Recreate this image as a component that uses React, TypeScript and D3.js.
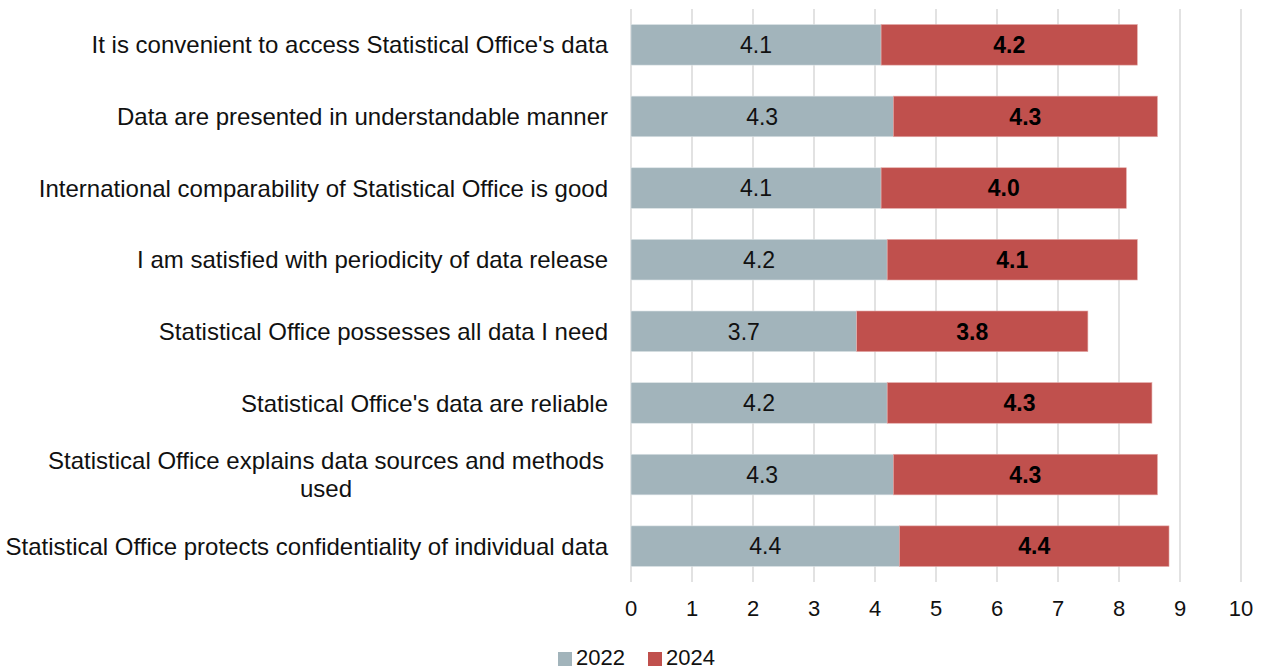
import React from 'react';
import * as d3 from 'd3';

// survey statements, top to bottom
const categories: string[][] = [
  ["It is convenient to access Statistical Office's data"],
  ['Data are presented in understandable manner'],
  ['International comparability of Statistical Office is good'],
  ['I am satisfied with periodicity of data release'],
  ['Statistical Office possesses all data I need'],
  ["Statistical Office's data are reliable"],
  ['Statistical Office explains data sources and methods', 'used'],
  ['Statistical Office protects confidentiality of individual data'],
];

const values2022 = [4.1, 4.3, 4.1, 4.2, 3.7, 4.2, 4.3, 4.4];
const values2024 = [4.2, 4.33, 4.02, 4.1, 3.79, 4.34, 4.33, 4.42];

const seriesNames = ['2022', '2024'];
const xTicks = [0, 1, 2, 3, 4, 5, 6, 7, 8, 9, 10];

const W = 1263;
const H = 671;
const FONT = '"Liberation Sans", Arial, sans-serif';
const GRAY = '#a2b4bb';
const RED = '#c0504d';
const TEXT = '#111';

const App = () => {
  const x = d3.scaleLinear().domain([0, 10]).range([631, 1241]);
  const y = d3
    .scaleBand<number>()
    .domain(d3.range(categories.length))
    .range([9, 582])
    .paddingInner(0.433)
    .paddingOuter(0.2165);
  const fmt = d3.format('.1f');
  const bh = y.bandwidth();

  return (
    <svg
      width={W}
      height={H}
      style={{ position: 'absolute', left: 0, top: 0, background: '#fff' }}
      fontFamily={FONT}
    >
      {/* vertical gridlines */}
      {xTicks.map(t => (
        <line key={t} x1={x(t)} x2={x(t)} y1={9} y2={582} stroke="#d9d9d9" strokeWidth={1.5} />
      ))}

      {/* stacked bars + value labels */}
      {categories.map((c, i) => {
        const y0 = y(i) as number;
        const a = values2022[i];
        const b = values2024[i];
        return (
          <g key={i}>
            <rect
              x={x(0)}
              y={y0}
              width={x(a) - x(0)}
              height={bh}
              fill={GRAY}
              stroke="#dde4e7"
              strokeWidth={0.6}
            />
            <rect
              x={x(a)}
              y={y0}
              width={x(a + b) - x(a)}
              height={bh}
              fill={RED}
              stroke="#e3a9a7"
              strokeWidth={0.6}
            />
            <text
              x={(x(0) + x(a)) / 2}
              y={y0 + bh / 2}
              dy="0.36em"
              textAnchor="middle"
              fontSize={23}
              fill={TEXT}
            >
              {fmt(a)}
            </text>
            <text
              x={(x(a) + x(a + b)) / 2}
              y={y0 + bh / 2}
              dy="0.36em"
              textAnchor="middle"
              fontSize={23}
              fontWeight="bold"
              fill="#000"
            >
              {fmt(b)}
            </text>
          </g>
        );
      })}

      {/* category labels */}
      {categories.map((lines, i) => {
        const cy = (y(i) as number) + bh / 2;
        if (lines.length === 1) {
          return (
            <text key={i} x={608} y={cy} dy="0.36em" textAnchor="end" fontSize={24} fill={TEXT}>
              {lines[0]}
            </text>
          );
        }
        // wrapped label: lines centred on each other
        const lh = 28;
        return (
          <text key={i} textAnchor="middle" fontSize={24} fill={TEXT}>
            {lines.map((l, j) => (
              <tspan key={j} x={326} y={cy + (j - (lines.length - 1) / 2) * lh} dy="0.36em">
                {l}
              </tspan>
            ))}
          </text>
        );
      })}

      {/* x axis tick labels */}
      {xTicks.map(t => (
        <text key={t} x={x(t)} y={608} dy="0.36em" textAnchor="middle" fontSize={22} fill={TEXT}>
          {t}
        </text>
      ))}

      {/* legend */}
      <g transform="translate(558, 657)">
        {seriesNames.map((s, i) => (
          <g key={s} transform={`translate(${i * 90}, 0)`}>
            <rect x={0} y={-5} width={14} height={14} fill={i === 0 ? GRAY : RED} />
            <text x={18} y={0} dy="0.36em" fontSize={22} fill={TEXT}>
              {s}
            </text>
          </g>
        ))}
      </g>
    </svg>
  );
};

export default App;
